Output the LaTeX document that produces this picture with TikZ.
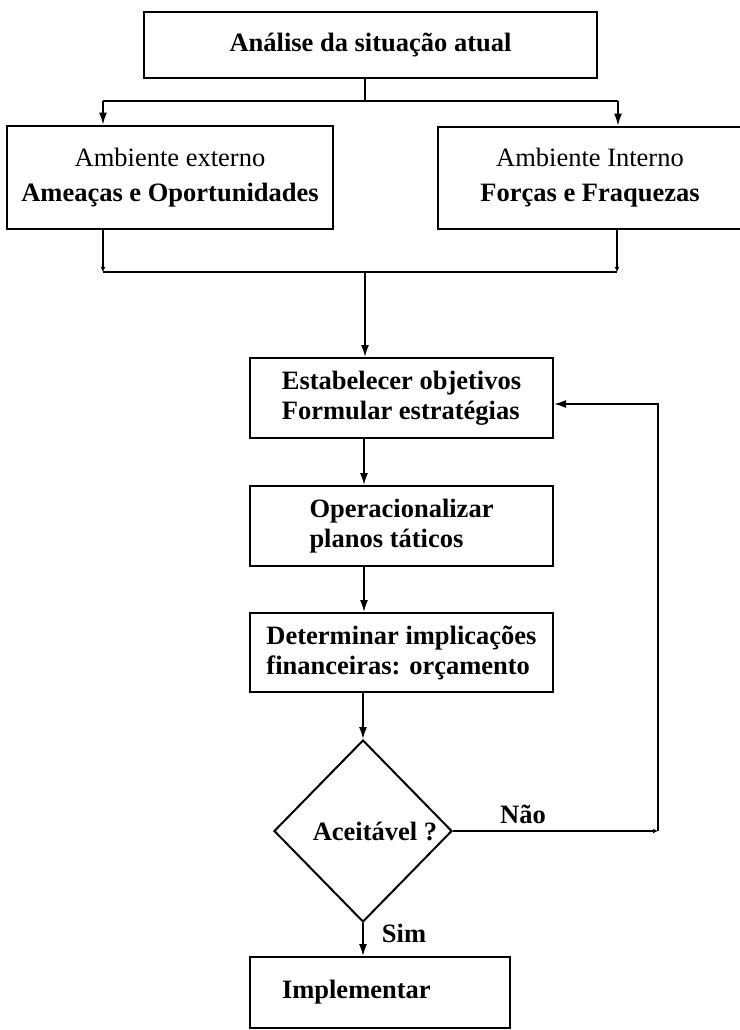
\documentclass[tikz,border=0pt]{standalone}
\usepackage{fontspec}
\setmainfont{Liberation Serif}
\usetikzlibrary{shapes.geometric,arrows.meta}

\begin{document}
\begin{tikzpicture}[x=0.5pt,y=-0.5pt]
% Estilos
\tikzstyle{cadre}=[draw,line width=1.4pt,align=center,inner sep=0pt]
\tikzstyle{etapa}=[draw,line width=1pt,align=left,inner sep=0pt]
\tikzstyle{fleche}=[-{Latex[length=6pt,width=4pt]},line width=0.85pt]
\tikzstyle{pointe}=[-{Latex[length=2.5pt,width=2.5pt]},line width=0.85pt]
\tikzstyle{trait}=[line width=0.85pt]
\tikzstyle{texto}=[font=\fontsize{13.25}{15}\selectfont\bfseries]
\tikzstyle{textoamb}=[font=\fontsize{13.25}{17.5}\selectfont]
% Dimensoes das caixas
\def\Lcol{151.5pt}
\def\Hcol{40pt}
% Moldura
\useasboundingbox (0,0) rectangle (740,1030);
% Analise
\node[cadre,texto,minimum width=226.5pt,minimum height=33pt] (analise) at (370.5,45) {Análise da situação atual};
% Ambientes
\node[cadre,textoamb,minimum width=163pt,minimum height=51.5pt] (externo) at (170,177.5) {Ambiente externo\\\textbf{Ameaças e Oportunidades}};
\node[cadre,textoamb,minimum width=152pt,minimum height=51pt] (interno) at (590,178) {Ambiente Interno\\\textbf{Forças e Fraquezas}};
% Coluna central
\node[etapa,texto,minimum width=\Lcol,minimum height=\Hcol] (objetivos) at (401.5,398) {Estabelecer objetivos\\Formular estratégias};
\node[etapa,texto,minimum width=\Lcol,minimum height=\Hcol] (planos) at (401.5,526) {Operacionalizar\\planos táticos};
\node[etapa,texto,minimum width=\Lcol,minimum height=39.5pt] (orcamento) at (401.5,652.5) {Determinar implicações\\financeiras: orçamento};
\node[diamond,draw,line width=1pt,texto,inner sep=0pt,minimum width=89pt,minimum height=91pt] (aceitavel) at (363,831) {\hspace*{12pt}Aceitável ?};
\node[etapa,texto,text width=98pt,inner xsep=16pt,minimum height=35.5pt] (implementar) at (380,992.5) {Implementar};
% Rotulos
\node[texto] (nao) at (523,814) {Não};
\node[texto] (sim) at (404,933) {Sim};
% Pontos de ligacao
\coordinate (haut) at (365,101);
\coordinate (hautg) at (103,101);
\coordinate (hautd) at (618,101);
\coordinate (basg) at (103,272);
\coordinate (basd) at (617,272);
\coordinate (basc) at (365,272);
\coordinate (axe) at (364,0);
\coordinate (retour) at (658,831);
\coordinate (retourh) at (658,404);
% Ligacoes
\draw[trait] (analise.south -| haut) -- (haut);
\draw[trait] (hautg) -- (hautd);
\draw[fleche] (hautg) -- (externo.north -| hautg);
\draw[fleche] (hautd) -- (interno.north -| hautd);
\draw[pointe] (externo.south -| basg) -- (basg);
\draw[pointe] (interno.south -| basd) -- (basd);
\draw[trait] (basg) -- (basd);
\draw[fleche] (basc) -- (objetivos.north -| basc);
\draw[fleche] (objetivos.south -| axe) -- (planos.north -| axe);
\draw[fleche] (planos.south -| axe) -- (orcamento.north -| axe);
\draw[fleche] (orcamento.south -| aceitavel.north) -- (aceitavel.north);
\draw[fleche] (aceitavel.south) -- (implementar.north -| aceitavel.south);
% Retorno
\draw[pointe] (aceitavel.east) -- (retour);
\draw[fleche] (retour) -- (retourh) -- (objetivos.east |- retourh);
\end{tikzpicture}
\end{document}
